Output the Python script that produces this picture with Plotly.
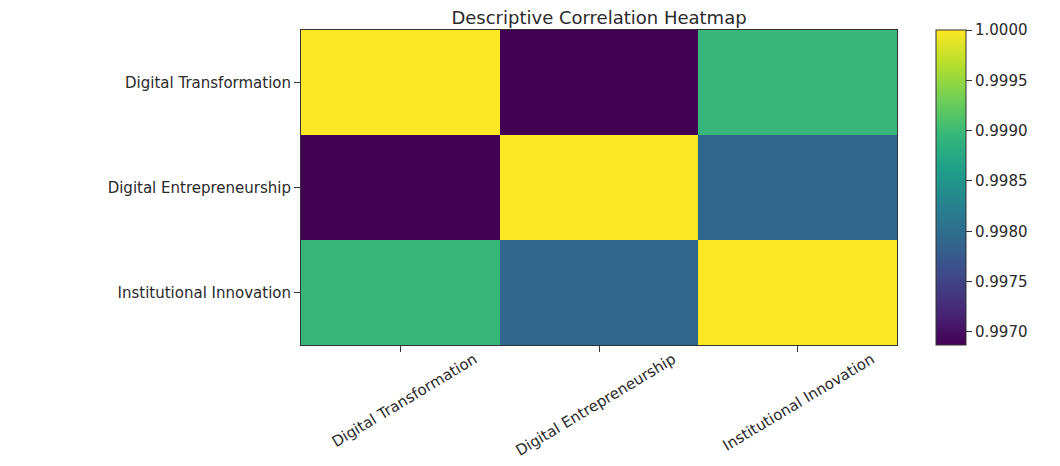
import plotly.graph_objects as go

labels = ["Digital Transformation", "Digital Entrepreneurship", "Institutional Innovation"]
row_dt = [1.0000, 0.99687, 0.99896]
row_de = [0.99687, 1.0000, 0.99790]
row_ii = [0.99896, 0.99790, 1.0000]
z = [row_dt, row_de, row_ii]

colorbar_ticks = [0.9970, 0.9975, 0.9980, 0.9985, 0.9990, 0.9995, 1.0000]

font_family = "DejaVu Sans"
txt = "#2a2a2a"

W, H = 1052, 458
L, R, T, B = 293, 163, 22, 121
plot_w = W - L - R

fig = go.Figure(go.Heatmap(
    z=z, x=labels, y=labels,
    colorscale="Viridis",
    zmin=0.99687, zmax=1.0,
    colorbar=dict(
        thickness=30, len=1.0, lenmode="fraction",
        x=(936 - 301) / plot_w, xanchor="left", xpad=0,
        y=0.5, yanchor="middle", ypad=0,
        tickvals=colorbar_ticks,
        ticktext=[f"{v:.4f}" for v in colorbar_ticks],
        ticks="outside", ticklen=6, tickcolor="#333",
        tickfont=dict(family=font_family, size=15, color=txt),
        outlinecolor="#333", outlinewidth=1,
    ),
))

fig.update_layout(
    width=W, height=H,
    margin=dict(l=L, r=R, t=T, b=B, autoexpand=False),
    paper_bgcolor="white", plot_bgcolor="white",
    title=dict(text="Descriptive Correlation Heatmap", x=(L + (W - R)) / 2 / W, xanchor="center",
               y=1 - 10 / H, yanchor="middle",
               font=dict(family=font_family, size=18, color=txt)),
    font=dict(family=font_family, size=15, color=txt),
)
fig.update_xaxes(tickangle=-31, ticks="outside", ticklen=6, tickcolor="#333", automargin=False,
                 ticklabelshift=74, ticklabelstandoff=-7,
                 showline=True, linecolor="#333", linewidth=1, mirror=True,
                 tickfont=dict(family=font_family, size=15, color=txt))
fig.update_yaxes(autorange="reversed", ticks="outside", ticklen=6, tickcolor="#333", automargin=False,
                 showline=True, linecolor="#333", linewidth=1, mirror=True,
                 tickfont=dict(family=font_family, size=15, color=txt))

fig.write_html("out.html")
